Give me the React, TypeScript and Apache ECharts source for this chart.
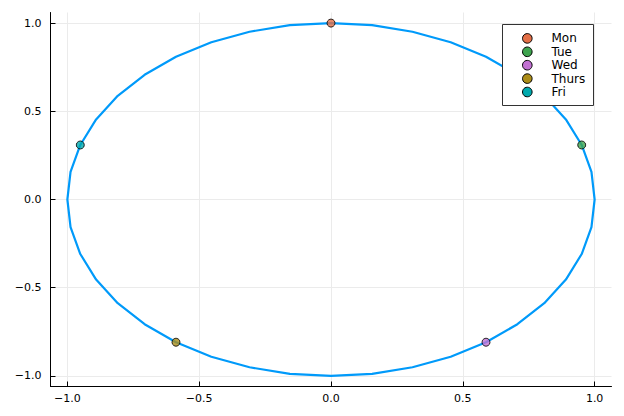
import React, { useEffect, useRef } from "react";
import * as echarts from "echarts";

const circleX = [
  0, 0.156, 0.309, 0.454, 0.588, 0.707, 0.809, 0.891, 0.951, 0.988, 1,
  0.988, 0.951, 0.891, 0.809, 0.707, 0.588, 0.454, 0.309, 0.156, 0,
  -0.156, -0.309, -0.454, -0.588, -0.707, -0.809, -0.891, -0.951, -0.988, -1,
  -0.988, -0.951, -0.891, -0.809, -0.707, -0.588, -0.454, -0.309, -0.156, 0,
];
const circleY = [
  1, 0.988, 0.951, 0.891, 0.809, 0.707, 0.588, 0.454, 0.309, 0.156, 0,
  -0.156, -0.309, -0.454, -0.588, -0.707, -0.809, -0.891, -0.951, -0.988, -1,
  -0.988, -0.951, -0.891, -0.809, -0.707, -0.588, -0.454, -0.309, -0.156, 0,
  0.156, 0.309, 0.454, 0.588, 0.707, 0.809, 0.891, 0.951, 0.988, 1,
];

const dayNames = ["Mon", "Tue", "Wed", "Thurs", "Fri"];
const dayX = [0, 0.951, 0.588, -0.588, -0.951];
const dayY = [1, 0.309, -0.809, -0.809, 0.309];
const dayColors = ["#E36F47", "#3EA44E", "#C271D2", "#AC8D18", "#00A9AD"];

const tickValues = [-1, -0.5, 0, 0.5, 1];
const xRange = [-1.064, 1.064];
const yRange = [-1.06, 1.06];

const FONT = "'DejaVu Sans', sans-serif";

function fmt(v: number) {
  const s = Number(v).toFixed(1);
  return s.replace("-", "\u2212");
}

export default function App() {
  const ref = useRef<HTMLDivElement>(null);
  useEffect(() => {
    if (!ref.current) return;
    const chart = echarts.init(ref.current, undefined, { renderer: "svg" });

    const axisCommon = {
      type: "value" as const,
      axisLine: { show: true, onZero: false, lineStyle: { color: "#000", width: 1 } },
      axisTick: {
        show: true,
        inside: true,
        length: 5,
        customValues: tickValues,
        lineStyle: { color: "#000", width: 1 },
      },
      axisLabel: {
        customValues: tickValues,
        formatter: (v: number) => fmt(v),
        color: "#000",
        fontSize: 11,
        fontFamily: FONT,
      },
      splitLine: { show: true, lineStyle: { color: "#ebebeb", width: 1 } },
    };

    const legendItems: any[] = [];
    const lx = 502.5;
    const ly = 24.5;
    legendItems.push({
      type: "rect",
      shape: { x: lx, y: ly, width: 91, height: 81 },
      style: { fill: "#fff", stroke: "#333", lineWidth: 1 },
      z: 100,
    });
    dayNames.forEach((name, i) => {
      const cy = 38.4 + i * 13.4;
      legendItems.push({
        type: "circle",
        shape: { cx: 527.3, cy, r: 4.8 },
        style: { fill: dayColors[i], stroke: "#000", lineWidth: 1 },
        z: 101,
      });
      legendItems.push({
        type: "text",
        x: 551.5,
        y: cy,
        style: {
          text: name,
          fill: "#000",
          fontSize: 12,
          fontFamily: FONT,
          verticalAlign: "middle",
          align: "left",
        },
        z: 101,
      });
    });

    chart.setOption({
      animation: false,
      backgroundColor: "#fff",
      grid: { left: 50.5, right: 12.5, top: 12.5, bottom: 29.5 },
      xAxis: {
        ...axisCommon,
        min: xRange[0],
        max: xRange[1],
        axisLabel: { ...axisCommon.axisLabel, margin: 6 },
      },
      yAxis: {
        ...axisCommon,
        min: yRange[0],
        max: yRange[1],
        axisLabel: { ...axisCommon.axisLabel, margin: 9 },
      },
      series: [
        {
          type: "line",
          data: circleX.map((x, i) => [x, circleY[i]]),
          showSymbol: false,
          symbol: "none",
          lineStyle: { color: "#009AFA", width: 2.2 },
          z: 2,
        },
        ...dayNames.map((name, i) => ({
          type: "scatter",
          name,
          data: [[dayX[i], dayY[i]]],
          symbol: "circle",
          symbolSize: 8,
          itemStyle: { color: dayColors[i], borderColor: "#000", borderWidth: 1 },
          z: 3,
        })),
      ],
      graphic: legendItems,
    });
    return () => chart.dispose();
  }, []);
  return <div ref={ref} style={{ width: 624, height: 416, margin: -8 }} />;
}
